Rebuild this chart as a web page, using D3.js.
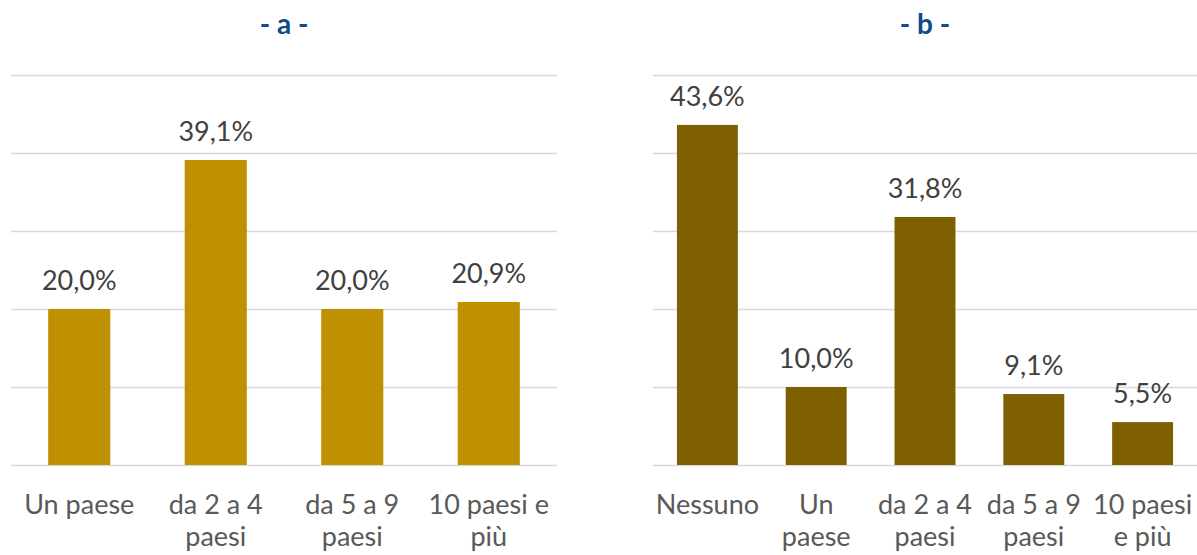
<!DOCTYPE html>
<html>
<head>
<meta charset="utf-8">
<script src="https://cdn.jsdelivr.net/npm/d3@7/dist/d3.min.js"></script>
<style>
  html, body { margin: 0; padding: 0; background: #fff; }
  svg { display: block; }
  text { font-family: "Source Sans Pro", Lato, "Open Sans", sans-serif; }
</style>
</head>
<body>
<svg id="chart" width="1197" height="555"></svg>
<script>
// ---- Data ----
const titleA = "- a -";
const categoriesA = ["Un paese", "da 2 a 4|paesi", "da 5 a 9|paesi", "10 paesi e|più"];
const valuesA = [20.0, 39.1, 20.0, 20.9];

const titleB = "- b -";
const categoriesB = ["Nessuno", "Un|paese", "da 2 a 4|paesi", "da 5 a 9|paesi", "10 paesi|e più"];
const valuesB = [43.6, 10.0, 31.8, 9.1, 5.5];

const yTicks = [0, 10, 20, 30, 40, 50];

// ---- Layout ----
const svg = d3.select("#chart");
const plotTop = 75, plotBottom = 465;
const y = d3.scaleLinear().domain([0, 50]).range([plotBottom, plotTop]);
const fmt = v => v.toFixed(1).replace(".", ",") + "%";

function panel(title, cats, vals, x0, x1, pad, color) {
  const g = svg.append("g");
  const x = d3.scaleBand().domain(cats).range([x0, x1]).paddingInner(pad).paddingOuter(pad / 2);

  // gridlines
  const grid = g.append("g")
    .attr("transform", `translate(${x0},0)`)
    .call(d3.axisLeft(y).tickValues(yTicks).tickSize(-(x1 - x0)).tickFormat(""));
  grid.select(".domain").remove();
  grid.selectAll(".tick line").attr("stroke", "#d9d9d9").attr("stroke-width", 1.5);

  // bars
  g.selectAll("rect.bar").data(vals).enter().append("rect")
    .attr("class", "bar")
    .attr("x", (d, i) => x(cats[i]))
    .attr("width", x.bandwidth())
    .attr("y", d => y(d))
    .attr("height", d => y(0) - y(d))
    .attr("fill", color);

  // value labels
  g.selectAll("text.val").data(vals).enter().append("text")
    .attr("class", "val")
    .attr("x", (d, i) => x(cats[i]) + x.bandwidth() / 2)
    .attr("y", d => y(d) - 19)
    .attr("text-anchor", "middle")
    .attr("font-size", 27)
    .attr("fill", "#404040")
    .text(d => fmt(d));

  // x axis labels
  const ax = g.append("g")
    .attr("transform", `translate(0,${plotBottom})`)
    .call(d3.axisBottom(x).tickSize(0).tickFormat(""));
  ax.select(".domain").remove();
  ax.selectAll(".tick").each(function(d) {
    const t = d3.select(this).append("text")
      .attr("text-anchor", "middle")
      .attr("font-size", 27)
      .attr("fill", "#595959");
    d.split("|").forEach((line, i) => {
      t.append("tspan").attr("x", 0).attr("y", 49 + i * 32).text(line);
    });
  });

  // title
  g.append("text")
    .attr("x", (x0 + x1) / 2)
    .attr("y", 34)
    .attr("text-anchor", "middle")
    .attr("font-size", 28)
    .attr("font-weight", "bold")
    .attr("fill", "#0f4a8a")
    .text(title);
}

panel(titleA, categoriesA, valuesA, 11, 557, 0.545, "#BF9000");
panel(titleB, categoriesB, valuesB, 653, 1197, 0.44, "#7F6000");
</script>
</body>
</html>
